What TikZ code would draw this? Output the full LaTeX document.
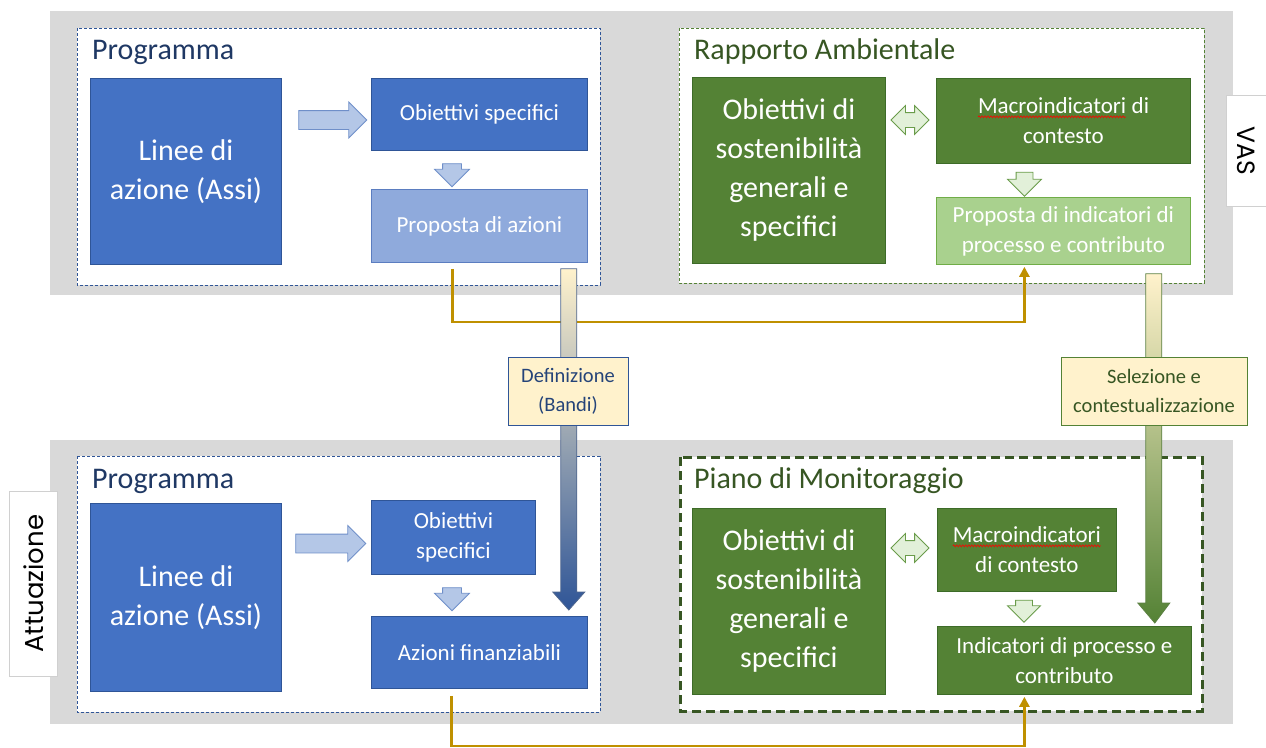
\documentclass[tikz,border=0pt]{standalone}
\usepackage{fontspec}
\setmainfont{Carlito}
\newfontfamily\geofont{Poppins}
\usetikzlibrary{shapes.arrows,calc,arrows.meta,decorations.pathmorphing}
\definecolor{cgray}{HTML}{D9D9D9}
\definecolor{cblue}{HTML}{4472C4}
\definecolor{cblueb}{HTML}{2F5597}
\definecolor{clblue}{HTML}{8FAADC}
\definecolor{clblueb}{HTML}{5B7DC0}
\definecolor{carrow}{HTML}{B4C7E7}
\definecolor{carrowb}{HTML}{6F8FC9}
\definecolor{cgreen}{HTML}{548235}
\definecolor{cgreenb}{HTML}{3D6B28}
\definecolor{clgreen}{HTML}{A9D18E}
\definecolor{clgreenb}{HTML}{70AD47}
\definecolor{cpale}{HTML}{E2F0D9}
\definecolor{cpaleb}{HTML}{6A9C4A}
\definecolor{cgold}{HTML}{BF9000}
\definecolor{ccream}{HTML}{FFF2CC}
\definecolor{cnavy}{HTML}{1F3864}
\definecolor{cdkgreen}{HTML}{375623}
\definecolor{cframe}{HTML}{D0D0D0}
\newcommand\squig[1]{\tikz[baseline=(sq.base)]{\node[shape=rectangle,inner sep=0pt,outer sep=0pt,minimum width=0pt,minimum height=0pt,draw=none,fill=none,anchor=base](sq){#1};\draw[red,line width=0.6pt,decorate,decoration={snake,amplitude=1pt,segment length=3pt}] ([yshift=-3pt]sq.base west) -- ([yshift=-3pt]sq.base east);}}
\tikzset{
  base/.style={rectangle, anchor=north west, inner sep=0pt, align=center, text=white, line width=0.8pt},
  bbox/.style={base, fill=cblue, draw=cblueb},
  lbbox/.style={base, fill=clblue, draw=clblueb},
  gbox/.style={base, fill=cgreen, draw=cgreenb},
  lgbox/.style={base, fill=clgreen, draw=clgreenb},
  bigtxt/.style={font=\fontsize{30}{39}\selectfont},
  smalltxt/.style={font=\fontsize{23}{30}\selectfont},
  titletxt/.style={anchor=base west, inner sep=0pt, font=\fontsize{30}{36}\selectfont},
  band/.style={fill=cgray},
  bframe/.style={draw=cblueb, line width=0.9pt, dash pattern=on 3pt off 2pt, fill=white},
  gframe/.style={draw=cgreen, line width=0.9pt, dash pattern=on 3pt off 2pt, fill=white},
  gthick/.style={draw=cdkgreen, line width=3pt, dash pattern=on 9pt off 5pt, fill=white},
  barrow/.style={single arrow, fill=carrow, draw=carrowb, line width=0.8pt, inner xsep=0pt, inner ysep=9pt},
  garrow/.style={single arrow, fill=cpale, draw=cpaleb, line width=0.8pt, inner xsep=0pt, inner ysep=8pt},
  darrow/.style={double arrow, fill=cpale, draw=cpaleb, line width=0.8pt, inner xsep=0pt, inner ysep=7pt},
  goldline/.style={draw=cgold, line width=2.5pt, -{Triangle[length=10pt,width=10pt]}},
  label/.style={rectangle, fill=ccream, line width=0.9pt, align=center, inner sep=0pt, font=\fontsize{20.5}{29}\selectfont},
  sidebox/.style={rectangle, fill=white, draw=cframe, line width=0.6pt, inner sep=0pt},
}
\begin{document}
\begin{tikzpicture}[x=1pt,y=-1pt]
\useasboundingbox (0,0) rectangle (1266,747);
% bands
\path[band] (50,11) rectangle (1233,295);
\path[band] (50,440) rectangle (1233,724);
% side labels
\node[sidebox, minimum width=40pt, minimum height=111pt, anchor=north west] (vas) at (1226,95) {};
\node[rotate=-90, font=\geofont\fontsize{25}{30}\selectfont] (vastxt) at (vas.center) {VAS};
\node[sidebox, minimum width=48pt, minimum height=185pt, anchor=north west] (att) at (9,491) {};
\node[rotate=90, font=\geofont\fontsize{26}{30}\selectfont] (atttxt) at (att.center) {Attuazione};
% frames
\path[bframe] (77,28) rectangle (600,285);
\path[gframe] (679,28) rectangle (1204,283);
\path[bframe] (77,456) rectangle (600,712);
\path[gthick] (680,457) rectangle (1202,711);
% titles
\node[titletxt, text=cnavy] (t1) at (92,59) {Programma};
\node[titletxt, text=cdkgreen] (t2) at (694,59) {Rapporto Ambientale};
\node[titletxt, text=cnavy] (t3) at (92,488) {Programma};
\node[titletxt, text=cdkgreen] (t4) at (694,488) {Piano di Monitoraggio};
% top left
\node[bbox, bigtxt, minimum width=191pt, minimum height=186pt] (lin1) at (90,78) {Linee di\\azione (Assi)};
\node[bbox, smalltxt, minimum width=216pt, minimum height=72pt] (obj1) at (371,78) {Obiettivi specifici};
\node[lbbox, smalltxt, minimum width=216pt, minimum height=73pt] (prop) at (371,189) {Proposta di azioni};
\node[barrow, minimum height=68pt, minimum width=35pt, single arrow head extend=8.5pt] (a1) at (328,120) {};
\node[barrow, rotate=-90, minimum height=23pt, minimum width=34pt, single arrow head extend=8pt] (a2) at (452,170.5) {};
% top right
\node[gbox, bigtxt, minimum width=193pt, minimum height=186pt] (sost1) at (692,77) {Obiettivi di\\sostenibilità\\generali e\\specifici};
\node[gbox, smalltxt, minimum width=254pt, minimum height=85pt] (mac1) at (936,78) {\squig{Macroindicatori} di\\contesto};
\node[lgbox, smalltxt, minimum width=254pt, minimum height=67pt] (pind) at (936,197) {Proposta di indicatori di\\processo e contributo};
\node[darrow, minimum height=38pt, minimum width=28pt, double arrow head extend=7pt] (a3) at (910,120) {};
\node[garrow, rotate=-90, minimum height=24pt, minimum width=33pt, single arrow head extend=8.5pt] (a4) at (1024.5,180) {};
% bottom left
\node[bbox, bigtxt, minimum width=191pt, minimum height=188pt] (lin2) at (90,503) {Linee di\\azione (Assi)};
\node[bbox, smalltxt, minimum width=164pt, minimum height=74pt] (obj2) at (371,500) {Obiettivi\\specifici};
\node[bbox, smalltxt, minimum width=216pt, minimum height=72pt] (az) at (371,616) {Azioni finanziabili};
\node[barrow, minimum height=70pt, minimum width=35pt, single arrow head extend=8.5pt] (a5) at (326,543.5) {};
\node[barrow, rotate=-90, minimum height=23pt, minimum width=34pt, single arrow head extend=8pt] (a6) at (452,594.5) {};
% bottom right
\node[gbox, bigtxt, minimum width=193pt, minimum height=186pt] (sost2) at (692,508) {Obiettivi di\\sostenibilità\\generali e\\specifici};
\node[gbox, smalltxt, minimum width=179pt, minimum height=83pt] (mac2) at (937,508) {\squig{Macroindicatori}\\di contesto};
\node[gbox, smalltxt, minimum width=254pt, minimum height=68pt] (ind) at (937,626) {Indicatori di processo e\\contributo};
\node[darrow, minimum height=38pt, minimum width=28pt, double arrow head extend=7pt] (a7) at (910,548) {};
\node[garrow, rotate=-90, minimum height=22pt, minimum width=32pt, single arrow head extend=8pt] (a8) at (1024,607) {};
% gold connectors
\draw[goldline] ($(prop.south)+(-27,6)$) -- ++(0,53) -| ([xshift=-39pt,yshift=-2pt]pind.south);
\draw[goldline] ($(az.south)+(-28,7)$) -- ++(0,50) -| ([xshift=-40pt,yshift=-2pt]ind.south);
% big gradient arrows
\coordinate (bs) at ($(prop.south east)+(-19,6)$);
\coordinate (be) at ($(az.north east)+(-19,-6)$);
\path[draw=cblueb!60!gray, line width=0.8pt, top color=ccream, bottom color=cblueb]
  let \p1=(bs), \p2=(be) in
  (\x1-8pt,\y1) -- (\x1+8pt,\y1) -- (\x1+8pt,\y2+18pt) -- (\x1+16pt,\y2+18pt) -- (\x2,\y2) -- (\x1-16pt,\y2+18pt) -- (\x1-8pt,\y2+18pt) -- cycle;
\coordinate (gs) at ($(pind.south east)+(-37,9)$);
\coordinate (ge) at ($(ind.north east)+(-37,-3)$);
\path[draw=cgreen!80!gray, line width=0.8pt, top color=ccream, bottom color=cgreen]
  let \p1=(gs), \p2=(ge) in
  (\x1-8pt,\y1) -- (\x1+8pt,\y1) -- (\x1+8pt,\y2+20pt) -- (\x1+16pt,\y2+20pt) -- (\x2,\y2) -- (\x1-16pt,\y2+20pt) -- (\x1-8pt,\y2+20pt) -- cycle;
% labels
\node[label, draw=cblueb, text=cblueb!80!black, minimum width=120pt, minimum height=68pt] (def) at (568,391) {Definizione\\(Bandi)};
\node[label, draw=cgreen, text=cdkgreen, minimum width=186pt, minimum height=68pt] (sel) at (1154,391) {Selezione e\\contestualizzazione};
\end{tikzpicture}
\end{document}
